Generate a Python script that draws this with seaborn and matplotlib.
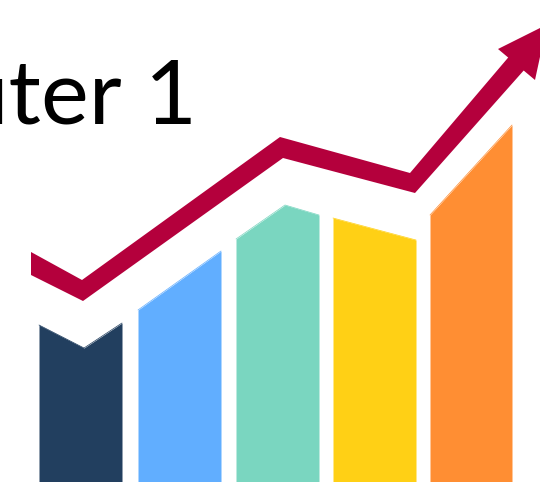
import matplotlib
matplotlib.use("Agg")
import matplotlib.pyplot as plt
import numpy as np
import pandas as pd
import seaborn as sns

sns.set_theme(style="white")
plt.rcParams["font.family"] = ["Lato", "DejaVu Sans"]

# Column profiles: horizontal position and height of each column's top edge
bar_names = ["navy", "blue", "teal", "yellow", "orange"]
bar_colors = ["#223F5F", "#61AEFF", "#7AD6C0", "#FFD015", "#FF8E33"]
navy_x = [39, 84, 122]
navy_top = [157, 134, 159]
blue_x = [138, 221]
blue_top = [172, 231]
teal_x = [236, 285, 319]
teal_top = [243, 277, 267]
yellow_x = [333, 416]
yellow_top = [264, 242]
orange_x = [430, 512]
orange_top = [267, 357]

# Trend ribbon: upper and lower edges, running on into the arrow head
trend_upper_x = [31, 82, 280, 410, 518]
trend_upper = [230, 202, 345, 309, 436]
trend_lower_x = [31, 83, 283, 415, 533]
trend_lower = [207, 181, 324, 289, 422]

# Arrow head outline
head_x = [498, 547, 535]
head_y = [433, 457.5, 402]

title_text = "Computer 1"
trend_color = "#B4003C"

fig = plt.figure(figsize=(5.4, 4.82), dpi=100)
ax = fig.add_axes([0, 0, 1, 1])

profiles = [
    (navy_x, navy_top),
    (blue_x, blue_top),
    (teal_x, teal_top),
    (yellow_x, yellow_top),
    (orange_x, orange_top),
]
for name, color, (xs, tops) in zip(bar_names, bar_colors, profiles):
    frame = pd.DataFrame({"x": xs, "top": tops, "bar": name})
    sns.lineplot(data=frame, x="x", y="top", color=color, linewidth=0.5, ax=ax,
                 estimator=None, sort=False, legend=False)
    ax.fill_between(xs, 0, tops, color=color, linewidth=0)

# Ribbon outline runs along the top edge, then back along the bottom edge
ribbon_x = trend_upper_x + trend_lower_x[::-1]
ribbon_y = trend_upper + trend_lower[::-1]
ax.fill(ribbon_x, ribbon_y, color=trend_color, linewidth=0)
ax.fill(head_x, head_y, color=trend_color, linewidth=0)

ax.text(197, 358, title_text, ha="right", va="baseline", fontsize=65, color="black")

ax.set_xlim(0, 540)
ax.set_ylim(0, 482)
ax.set_axis_off()

fig.savefig("out.png", dpi=100, facecolor="white")
